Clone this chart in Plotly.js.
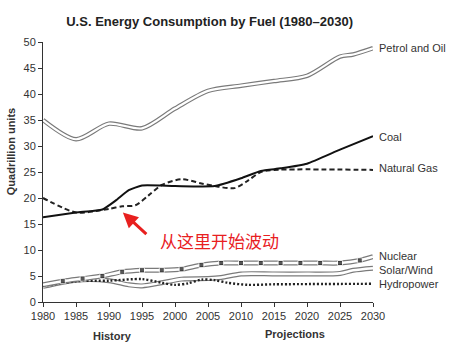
<!DOCTYPE html>
<html>
<head>
<meta charset="utf-8">
<script src="https://cdn.plot.ly/plotly-3.0.1.min.js"></script>
<style>html,body{margin:0;padding:0;background:#fff;}#chart{width:465px;height:352px;}</style>
</head>
<body>
<div id="chart"></div>
<script>
// ---- data ----
const petrolYears = [1980, 1985, 1990, 1995, 2000, 2005, 2010, 2015, 2020, 2025, 2027, 2030];
const petrolVals  = [35.0, 31.3, 34.3, 33.4, 37.2, 40.6, 41.6, 42.5, 43.5, 47.2, 47.6, 48.8];

const coalYears = [1980, 1985, 1989, 1991, 1993, 1995, 2000, 2006, 2010, 2013, 2016, 2020, 2025, 2030];
const coalVals  = [16.3, 17.2, 17.8, 19.5, 21.5, 22.4, 22.3, 22.3, 23.8, 25.2, 25.7, 26.6, 29.3, 31.9];

const gasYears = [1980, 1985, 1988, 1990, 1992, 1994, 1996, 1998, 2001, 2004, 2006, 2009, 2011, 2013, 2015, 2030];
const gasVals  = [20.0, 17.2, 17.5, 17.9, 18.4, 18.6, 20.5, 22.5, 23.6, 22.8, 22.3, 21.9, 23.3, 25.0, 25.4, 25.4];

const nuclearYears = [1980, 1983, 1986, 1989, 1992, 1995, 1998, 2001, 2004, 2007, 2010, 2013, 2016, 2019, 2022, 2025, 2028, 2030];
const nuclearVals  = [3.3, 4.0, 4.5, 5.0, 5.8, 6.1, 6.1, 6.3, 7.1, 7.5, 7.5, 7.5, 7.5, 7.5, 7.5, 7.5, 8.0, 8.7];

const solarYears = [1980, 1985, 1990, 1993, 1995, 1998, 2001, 2005, 2007, 2010, 2015, 2020, 2025, 2027, 2030];
const solarVals  = [3.0, 4.2, 4.1, 3.3, 3.1, 3.7, 4.4, 4.5, 4.7, 5.4, 5.4, 5.4, 5.5, 6.1, 6.5];

const hydroYears = [1980, 1985, 1990, 1995, 1998, 2000, 2002, 2004, 2006, 2008, 2011, 2015, 2030];
const hydroVals  = [3.1, 4.0, 4.1, 4.4, 3.7, 3.3, 3.6, 4.3, 4.2, 3.7, 3.3, 3.4, 3.5];

const seriesLabels = ['Petrol and Oil', 'Coal', 'Natural Gas', 'Nuclear', 'Solar/Wind', 'Hydropower'];
const xTicks = [1980, 1985, 1990, 1995, 2000, 2005, 2010, 2015, 2020, 2025, 2030];
const yTicks = [0, 5, 10, 15, 20, 25, 30, 35, 40, 45, 50];

// ---- traces ----
const sp = {shape: 'spline', smoothing: 0.8};
function rail(xs, ys, outer, inner, wOut, wIn) {
  return [
    {x: xs, y: ys, mode: 'lines', line: Object.assign({color: outer, width: wOut}, sp), hoverinfo: 'skip'},
    {x: xs, y: ys, mode: 'lines', line: Object.assign({color: inner, width: wIn}, sp), hoverinfo: 'skip'}
  ];
}
const nucSizes = nuclearYears.map((v, i) => (i === 0 || i === nuclearYears.length - 1) ? 0 : 5);

const traces = [].concat(
  rail(solarYears, solarVals, '#7a7a7a', '#ffffff', 5, 2.6),
  [{x: hydroYears, y: hydroVals, mode: 'lines', line: Object.assign({color: '#222', width: 2.4, dash: '2px,2px'}, sp)}],
  rail(nuclearYears, nuclearVals, '#7a7a7a', '#ffffff', 5, 2.6),
  [{x: nuclearYears, y: nuclearVals, mode: 'markers', marker: {symbol: 'square', color: '#111', size: nucSizes}}],
  rail(petrolYears, petrolVals, '#7a7a7a', '#ffffff', 4.5, 2.2),
  [{x: gasYears, y: gasVals, mode: 'lines', line: Object.assign({color: '#222', width: 2, dash: '5px,3px'}, sp)}],
  [{x: coalYears, y: coalVals, mode: 'lines', line: Object.assign({color: '#111', width: 2}, {shape: 'spline', smoothing: 0.5})}]
);

const endVals = [petrolVals[petrolVals.length-1] + 0.1, coalVals[coalVals.length-1] - 0.2, gasVals[gasVals.length-1] + 0.3,
                 nuclearVals[nuclearVals.length-1] + 0.2, solarVals[solarVals.length-1] - 0.3, hydroVals[hydroVals.length-1]];

const font11 = {family: 'Liberation Sans, Arial, sans-serif', size: 11, color: '#333'};
const annotations = seriesLabels.map((t, i) => ({
  text: t, x: 2030, y: endVals[i], xref: 'x', yref: 'y', xanchor: 'left', yanchor: 'middle',
  xshift: 4, showarrow: false, font: font11
}));
annotations.push(
  {text: '<b>History</b>', xref: 'paper', yref: 'paper', x: 0.21, y: -0.129, xanchor: 'center', yanchor: 'middle',
   showarrow: false, font: font11},
  {text: '<b>Projections</b>', xref: 'paper', yref: 'paper', x: 0.764, y: -0.123, xanchor: 'center', yanchor: 'middle',
   showarrow: false, font: font11},
  {text: '<b>Quadrillion units</b>', xref: 'paper', yref: 'paper', x: -0.097, y: 0.58, xanchor: 'center', yanchor: 'middle',
   textangle: -90, showarrow: false, font: font11},
  {text: '', x: 1992.1, y: 17.2, xref: 'x', yref: 'y', showarrow: true, ax: 25, ay: 23,
   arrowcolor: '#e8201f', arrowwidth: 3, arrowhead: 2, arrowsize: 1},
  {text: '从这里开始波动', xref: 'paper', yref: 'paper', x: (219 - 43) / 330, y: (302 - 240) / 260,
   xanchor: 'center', yanchor: 'middle', showarrow: false,
   font: {family: 'Noto Sans CJK SC, sans-serif', size: 17, color: '#e8201f'}}
);

const layout = {
  width: 465, height: 352,
  margin: {l: 43, r: 92, t: 42, b: 50},
  paper_bgcolor: '#fff', plot_bgcolor: '#fff',
  showlegend: false,
  title: {text: '<b>U.S. Energy Consumption by Fuel (1980–2030)</b>', x: 0.505, xref: 'paper', y: 0.94, yref: 'container',
          xanchor: 'center', yanchor: 'middle',
          font: {family: 'Liberation Sans, Arial, sans-serif', size: 13, color: '#222'}},
  xaxis: {range: [1980, 2030], tickvals: xTicks, ticktext: xTicks.map(String), showgrid: false, zeroline: false,
          showline: true, linecolor: '#333', linewidth: 1, ticks: 'outside', ticklen: 4, tickcolor: '#333',
          tickfont: font11},
  yaxis: {range: [0, 50], tickvals: yTicks, ticktext: yTicks.map(String), showgrid: false, zeroline: false,
          showline: true, linecolor: '#333', linewidth: 1, ticks: 'outside', ticklen: 4, tickcolor: '#333',
          tickfont: font11},
  annotations: annotations
};

Plotly.newPlot('chart', traces, layout, {staticPlot: true, displayModeBar: false});
</script>
</body>
</html>
